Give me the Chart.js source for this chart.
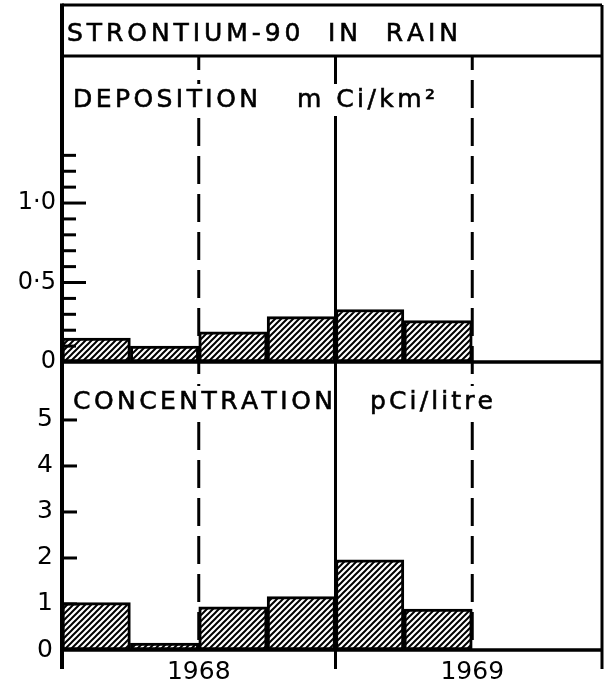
<!DOCTYPE html>
<html><head><meta charset="utf-8">
<script src="https://cdn.jsdelivr.net/npm/chart.js@4.4.1/dist/chart.umd.min.js"></script>
<style>html,body{margin:0;padding:0;background:#fff}#wrap{width:609px;height:686px;position:relative}canvas{display:block}</style>
</head><body><div id="wrap"><canvas id="c" width="609" height="686"></canvas></div>
<script>
// ---- data ----
const quarters = ['1968 Q1','1968 Q2','1968 Q3','1968 Q4','1969 Q1','1969 Q2'];
const deposition = [0.15, 0.10, 0.19, 0.285, 0.33, 0.26];      // mCi/km2
const concentration = [1.03, 0.15, 0.94, 1.16, 1.96, 0.89];    // pCi/litre
const years = ['1968','1969'];
const yearMidValues = [1968.5, 1969.5];
const halfYearLines = [1968.5, 1969.5];
const yearLines = [1969];
const depTickValues = [0, 0.5, 1.0];
const depTickLabels = ['0','0·5','1·0'];
const depMinorTicks = [0.1,0.2,0.3,0.4,0.6,0.7,0.8,0.9,1.1,1.2,1.3];
const concTickValues = [0,1,2,3,4,5];
const concTickLabels = ['0','1','2','3','4','5'];
const titleText = 'STRONTIUM-90  IN  RAIN';
const depLabel = ['DEPOSITION', 'm Ci/km²'];
const concLabel = ['CONCENTRATION', 'pCi/litre'];

const FONT = 'DejaVu Sans';
const qx = q => { const [y, qq] = q.split(' Q'); return parseInt(y) + (parseInt(qq) - 0.5) / 4; };

const canvas = document.getElementById('c');
const ctx0 = canvas.getContext('2d');
function hatch() {
  const c = document.createElement('canvas'); c.width = 6; c.height = 6;
  const g = c.getContext('2d');
  g.fillStyle = '#fff'; g.fillRect(0, 0, 6, 6);
  g.strokeStyle = '#000'; g.lineWidth = 2; g.lineCap = 'square';
  g.beginPath();
  g.moveTo(-1, 7); g.lineTo(7, -1);
  g.moveTo(-1, 1); g.lineTo(1, -1);
  g.moveTo(5, 7); g.lineTo(7, 5);
  g.stroke();
  return ctx0.createPattern(c, 'repeat');
}
const pattern = hatch();

function drawSpaced(ctx, text, x, cy, width, size) {
  ctx.font = size + 'px "' + FONT + '"';
  ctx.textBaseline = 'alphabetic';
  ctx.textAlign = 'left';
  ctx.lineWidth = 0.6; ctx.strokeStyle = '#000';
  const chars = Array.from(text);
  const ws = chars.map(ch => ctx.measureText(ch).width);
  const total = ws.reduce((a, b) => a + b, 0);
  const sp = chars.length > 1 ? (width - total) / (chars.length - 1) : 0;
  const base = cy + size * 0.729 / 2;
  let cx = x;
  chars.forEach((ch, i) => { ctx.fillText(ch, cx, base); ctx.strokeText(ch, cx, base); cx += ws[i] + sp; });
}

const decor = {
  id: 'decor',
  afterDatasetsDraw(chart) {
    const ctx = chart.ctx, ca = chart.chartArea;
    const xs = chart.scales.x, yd = chart.scales.yDep, yc = chart.scales.yConc;
    const L = ca.left, R = 602, T = 5, top = ca.top;
    const dz = yd.getPixelForValue(0), cz = yc.getPixelForValue(0);
    const below = cz + 19;
    ctx.save();
    ctx.strokeStyle = '#000'; ctx.fillStyle = '#000';
    // vertical half-year dashed lines
    ctx.lineWidth = 3;
    ctx.setLineDash([28, 10]); ctx.lineDashOffset = 14;
    halfYearLines.forEach(v => {
      const px = xs.getPixelForValue(v);
      ctx.beginPath(); ctx.moveTo(px, top); ctx.lineTo(px, cz); ctx.stroke();
    });
    ctx.setLineDash([]);
    yearLines.forEach(v => {
      const px = xs.getPixelForValue(v);
      ctx.beginPath(); ctx.moveTo(px, top); ctx.lineTo(px, below); ctx.stroke();
    });
    // inward tick marks
    ctx.lineWidth = 3;
    depTickValues.forEach(v => {
      const py = yd.getPixelForValue(v);
      if (v === 0) return;
      ctx.beginPath(); ctx.moveTo(L, py); ctx.lineTo(L + 24, py); ctx.stroke();
    });
    depMinorTicks.forEach(v => {
      const py = yd.getPixelForValue(v);
      ctx.beginPath(); ctx.moveTo(L, py); ctx.lineTo(L + 14, py); ctx.stroke();
    });
    concTickValues.forEach(v => {
      if (v === 0) return;
      const py = yc.getPixelForValue(v);
      ctx.beginPath(); ctx.moveTo(L, py); ctx.lineTo(L + 15, py); ctx.stroke();
    });
    // knock-out behind panel labels
    ctx.fillStyle = '#fff';
    ctx.fillRect(70, 84, 368, 32);
    ctx.fillRect(70, 386, 263, 28);
    ctx.fillRect(368, 386, 128, 28);
    ctx.fillStyle = '#000';
    drawSpaced(ctx, titleText, 67, 31.5, 391, 25);
    drawSpaced(ctx, depLabel[0], 73, 97.5, 185, 25);
    drawSpaced(ctx, depLabel[1], 297, 97.5, 138, 25);
    drawSpaced(ctx, concLabel[0], 73, 400, 260, 25);
    drawSpaced(ctx, concLabel[1], 370, 400, 123, 25);
    // frame
    ctx.lineWidth = 3;
    ctx.beginPath();
    ctx.moveTo(L, T); ctx.lineTo(R, T);
    ctx.moveTo(L, top); ctx.lineTo(R, top);
    ctx.moveTo(R, T); ctx.lineTo(R, below);
    ctx.stroke();
    ctx.lineWidth = 3.5;
    ctx.beginPath();
    ctx.moveTo(L, dz); ctx.lineTo(R, dz);
    ctx.moveTo(L, cz); ctx.lineTo(R, cz);
    ctx.stroke();
    ctx.lineWidth = 4;
    ctx.beginPath(); ctx.moveTo(L, T - 1.5); ctx.lineTo(L, below); ctx.stroke();
    ctx.restore();
  }
};

const barStyle = {
  backgroundColor: pattern, borderColor: '#000', borderWidth: 3, borderSkipped: false,
  barPercentage: 1, categoryPercentage: 1, grouped: false
};

new Chart(canvas, {
  type: 'bar',
  data: {
    datasets: [
      Object.assign({ label: 'Deposition', yAxisID: 'yDep',
        data: quarters.map((q, i) => ({ x: qx(q), y: deposition[i] })) }, barStyle),
      Object.assign({ label: 'Concentration', yAxisID: 'yConc',
        data: quarters.map((q, i) => ({ x: qx(q), y: concentration[i] })) }, barStyle)
    ]
  },
  options: {
    responsive: false, animation: false, devicePixelRatio: 1,
    layout: { padding: { top: 56, left: 0, right: 0, bottom: 0 } },
    plugins: { legend: { display: false }, tooltip: { enabled: false }, title: { display: false } },
    scales: {
      x: {
        type: 'linear', min: 1968, max: 1970, offset: false, bounds: 'data',
        afterDataLimits: s => { s.min = 1968; s.max = 1970; },
        afterBuildTicks: s => { s.ticks = yearMidValues.map(v => ({ value: v })); },
        ticks: { callback: (v, i) => years[i], autoSkip: false, maxRotation: 0, color: '#000',
                 font: { family: FONT, size: 25 }, padding: 7 },
        grid: { display: false, drawTicks: false, offset: false }, border: { display: false },
        afterFit: s => { s.height = 36; }
      },
      yConc: {
        type: 'linear', position: 'left', stack: 'v', stackWeight: 288, min: 0, max: 6.26,
        afterBuildTicks: s => { s.ticks = concTickValues.map(v => ({ value: v })); },
        ticks: { callback: (v, i) => concTickLabels[i], autoSkip: false, color: '#000',
                 font: { family: FONT, size: 25 }, padding: 9 },
        grid: { display: false, drawTicks: false }, border: { display: false },
        afterFit: s => { s.width = 62; }
      },
      yDep: {
        type: 'linear', position: 'left', stack: 'v', stackWeight: 306, min: 0, max: 1.925,
        afterBuildTicks: s => { s.ticks = depTickValues.map(v => ({ value: v })); },
        ticks: { callback: (v, i) => depTickLabels[i], autoSkip: false, color: '#000',
                 font: { family: FONT, size: 24 }, padding: 6 },
        grid: { display: false, drawTicks: false }, border: { display: false },
        afterFit: s => { s.width = 62; }
      }
    }
  },
  plugins: [decor]
});
</script>
</body></html>
